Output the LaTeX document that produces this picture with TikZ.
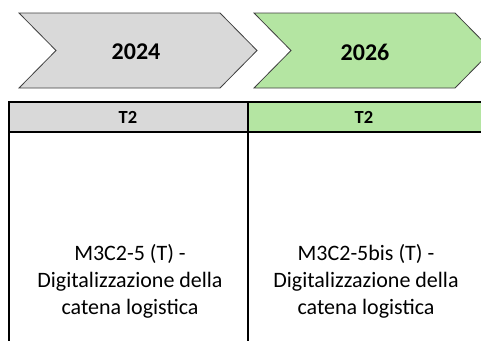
\documentclass[tikz,border=0pt]{standalone}
\usepackage{fontspec}
\setmainfont{Carlito}
\definecolor{chevgrey}{HTML}{D9D9D9}
\definecolor{chevgreen}{HTML}{B4E5A2}
\definecolor{edgecol}{HTML}{404040}
\begin{document}
\begin{tikzpicture}[x=1pt,y=-1pt,
  chev/.style={draw=edgecol,line width=0.8pt,line join=miter},
  gridline/.style={draw=black,line width=2pt},
  year/.style={font=\fontsize{24}{28}\selectfont\bfseries,inner sep=0pt},
  head/.style={font=\fontsize{18.5}{20}\selectfont\bfseries,inner sep=0pt},
  body/.style={font=\fontsize{22}{27}\selectfont,align=center,inner sep=0pt}]
\useasboundingbox (0,0) rectangle (481,340);
\clip (0,0) rectangle (481,340);
% chevrons
\path[chev,fill=chevgrey] (19,13) -- (220,13) -- (257,50.5) -- (220,88) -- (19,88) -- (56,50.5) -- cycle;
\path[chev,fill=chevgreen] (254,13) -- (455,13) -- (492,50.5) -- (455,88) -- (254,88) -- (291,50.5) -- cycle;
\node[year] (y1) at (136,52) {2024};
\node[year] (y2) at (365,52) {2026};
% table header fills
\fill[chevgrey] (9,102) rectangle (248,132);
\fill[chevgreen] (248,102) rectangle (490,132);
\node[head] (h1) at (128,117) {T2};
\node[head] (h2) at (364,117) {T2};
% grid lines
\draw[gridline] (8,102) -- (490,102);
\draw[gridline] (8,132) -- (490,132);
\draw[gridline] (9,101) -- (9,350);
\draw[gridline] (248,101) -- (248,350);
% body
\node[body] (b1) at (130,281) {M3C2-5 (T) -\\Digitalizzazione della\\catena logistica};
\node[body] (b2) at (366,281) {M3C2-5bis (T) -\\Digitalizzazione della\\catena logistica};
\end{tikzpicture}
\end{document}
